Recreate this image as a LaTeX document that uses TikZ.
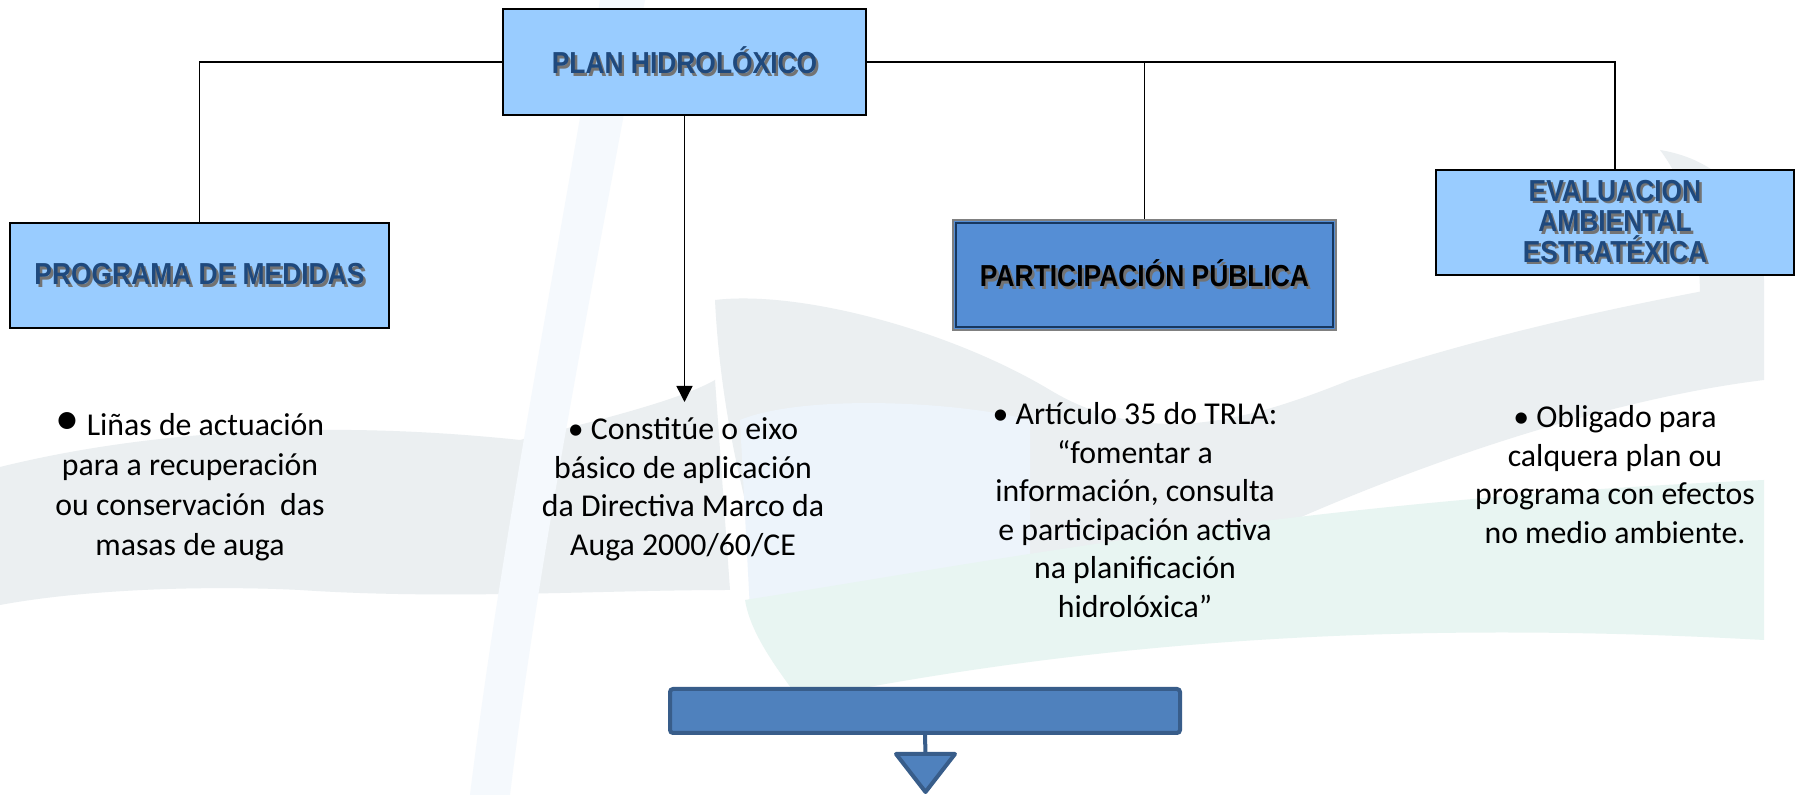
\documentclass[tikz,border=0pt]{standalone}
\usepackage{fontspec}
\setmainfont{Carlito}
\newfontfamily\hfont{Liberation Sans}
\usetikzlibrary{arrows.meta,calc}
\definecolor{lightbox}{HTML}{99CCFF}
\definecolor{ppfill}{HTML}{558ED5}
\definecolor{ppnavy}{HTML}{17375E}
\definecolor{headblue}{HTML}{1F497D}
\definecolor{barfill}{HTML}{4F81BD}
\definecolor{bardraw}{HTML}{385D8A}
\definecolor{bggray}{HTML}{EBEFF1}
\definecolor{bgteal}{HTML}{E8F5F2}
\definecolor{bgblue}{HTML}{EDF4FB}
\definecolor{bgstroke}{HTML}{F5F9FD}
\newcommand\shd[2]{\scalebox{1}[1.15]{\leavevmode\rlap{\hspace{1.2pt}\raisebox{-1.2pt}{\textcolor{black!55}{#2}}}\textcolor{#1}{#2}}}
\begin{document}
\begin{tikzpicture}[x=0.5pt,y=-0.5pt,
  hbox/.style={draw=black, line width=1pt, fill=lightbox, inner sep=0pt,
    font=\hfont\bfseries\fontsize{13.2}{15.25}\selectfont, align=center},
  body/.style={font=\fontsize{15.9}{19.25}\selectfont, align=center, inner sep=0pt},
  conn/.style={line width=0.75pt, black},
  barstyle/.style={draw=bardraw, fill=barfill, line width=2pt}]
\useasboundingbox (0,0) rectangle (1796,795);
\fill[white] (0,0) rectangle (1796,795);
% faint background swooshes
\fill[bggray] (0,467) .. controls (150,430) and (330,420) .. (520,440) .. controls (600,420) and (680,400) .. (715,380) -- (730,590) .. controls (600,590) and (450,600) .. (300,590) .. controls (200,585) and (80,590) .. (0,605) -- cycle;
\fill[bggray] (715,300) .. controls (800,290) and (950,330) .. (1050,390) .. controls (1150,450) and (1250,420) .. (1350,380) .. controls (1500,330) and (1650,300) .. (1764,280) -- (1764,380) .. controls (1600,400) and (1400,470) .. (1250,540) .. controls (1100,600) and (900,600) .. (780,620) .. controls (740,500) and (720,400) .. (715,300) -- cycle;
\fill[bggray] (1660,150) .. controls (1720,160) and (1760,200) .. (1764,280) -- (1700,300) .. controls (1700,240) and (1690,190) .. (1660,150) -- cycle;
\fill[bgblue] (740,420) .. controls (800,395) and (950,400) .. (1030,420) -- (1030,600) .. controls (900,610) and (800,615) .. (750,610) -- cycle;
\fill[bgteal] (745,600) .. controls (1000,560) and (1300,500) .. (1764,480) -- (1764,640) .. controls (1400,620) and (1100,640) .. (800,700) .. controls (770,660) and (750,630) .. (745,600) -- cycle;
\fill[bgstroke] (600,0) -- (645,0) .. controls (590,300) and (540,550) .. (510,795) -- (470,795) .. controls (500,550) and (550,300) .. (600,0) -- cycle;

% boxes
\node[hbox, minimum width=181.5pt, minimum height=53pt] (plan) at (684.5,62) {\shd{headblue}{PLAN HIDROLÓXICO}};
\node[hbox, minimum width=189.5pt, minimum height=52.5pt] (prog) at (199.5,275.5) {\shd{headblue}{PROGRAMA DE MEDIDAS}};
\node[hbox, fill=ppfill, draw=gray, line width=0.8pt, minimum width=191.5pt, minimum height=55pt] (pp) at (1144.5,275) {\shd{black}{PARTICIPACIÓN PÚBLICA}};
\draw[ppnavy, line width=1pt] ($(pp.south west)+(3.5,-3.5)$) rectangle ($(pp.north east)+(-3.5,3.5)$);
\node[hbox, minimum width=179pt, minimum height=52.5pt] (eval) at (1615,222.5) {\shd{headblue}{EVALUACION}\\\shd{headblue}{AMBIENTAL}\\\shd{headblue}{ESTRATÉXICA}};

% connectors
\draw[conn] (plan.west) -| (prog.north);
\draw[conn] (plan.east) -| (pp.north);
\draw[conn] (plan.east) -| (eval.north);
\coordinate (arrtip) at (684.5,402);
\draw[conn, -{Triangle[length=8pt,width=8pt]}] (plan.south) -- (arrtip);

% texts (base anchor = last line baseline)
\node[body, font=\fontsize{15.9}{20}\selectfont, anchor=base] (t1) at (190,556) {{\fontsize{24}{20}\selectfont\raisebox{0.5pt}{•}} Liñas de actuación\\para a recuperación\\ou conservación\ \ das\\masas de auga};
\node[body, anchor=base] (t2) at (683,555.5) {• Constitúe o eixo\\básico de aplicación\\da Directiva Marco da\\Auga 2000/60/CE};
\node[body, anchor=base] (t3) at (1135,617.5) {• Artículo 35 do TRLA:\\“fomentar a\\información, consulta\\e participación activa\\na planificación\\hidrolóxica”};
\node[body, anchor=base] (t4) at (1615,543.5) {• Obligado para\\calquera plan ou\\programa con efectos\\no medio ambiente.};

% bottom bar and triangle
\node[barstyle, rounded corners=1.5pt, minimum width=255pt, minimum height=22pt, inner sep=0pt] (bar) at (925,711) {};
\coordinate (tritop) at (925.5,754);
\draw[bardraw, line width=2pt] (bar.south) -- (tritop);
\draw[barstyle, line join=round] (896,754) -- (955,754) -- (925.5,792) -- cycle;
\end{tikzpicture}
\end{document}
